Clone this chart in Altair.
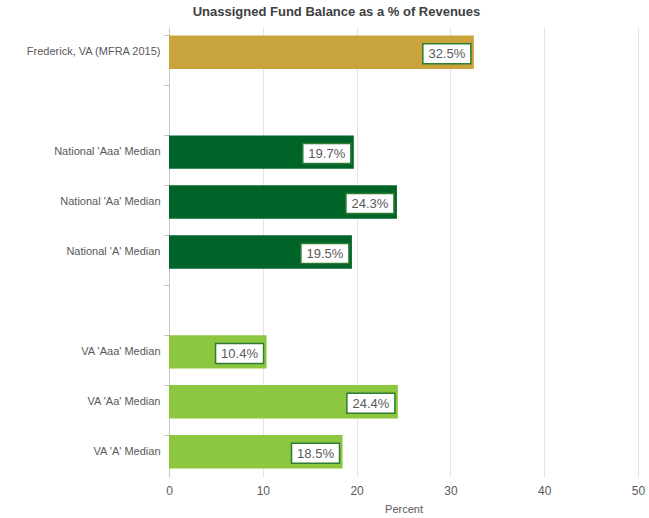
import altair as alt
import pandas as pd

categories = ["Frederick, VA (MFRA 2015)", " ", "National 'Aaa' Median", "National 'Aa' Median",
              "National 'A' Median", "  ", "VA 'Aaa' Median", "VA 'Aa' Median", "VA 'A' Median"]
bar_names = ["Frederick, VA (MFRA 2015)", "National 'Aaa' Median", "National 'Aa' Median",
             "National 'A' Median", "VA 'Aaa' Median", "VA 'Aa' Median", "VA 'A' Median"]
values = [32.5, 19.7, 24.3, 19.5, 10.4, 24.4, 18.5]
groups = ["Frederick", "National", "National", "National", "VA", "VA", "VA"]
group_names = ["Frederick", "National", "VA"]
group_colors = ["#C9A33B", "#006429", "#8DC63F"]
x_ticks = [0, 10, 20, 30, 40, 50]

df = pd.DataFrame({"name": bar_names, "value": values, "group": groups})
df["label"] = [f"{v:.1f}%" for v in values]

FONT = "Liberation Sans"
yscale = alt.Scale(domain=categories, paddingInner=0.33, paddingOuter=0.17)
xscale = alt.Scale(domain=[0, 50], nice=False)

y_enc = alt.Y("name:N", scale=yscale, sort=categories, title=None,
              axis=alt.Axis(ticks=False, domain=True, domainColor="#c8c8c8", labelColor="#595959",
                            labelFont=FONT, labelFontSize=11, labelPadding=9, grid=False,
                            orient="left"))
x_enc = alt.X("value:Q", scale=xscale, title="Percent",
              axis=alt.Axis(values=x_ticks, grid=True, gridColor="#e3e3e3",
                            ticks=False, domain=False, labelColor="#595959", labelFont=FONT,
                            labelFontSize=12, labelPadding=8, labelFlush=False,
                            titleColor="#595959",
                            titleFont=FONT, titleFontSize=11, titleFontWeight="normal",
                            titlePadding=7))

bars = alt.Chart(df).mark_bar().encode(
    y=y_enc, x=x_enc,
    color=alt.Color("group:N", scale=alt.Scale(domain=group_names, range=group_colors), legend=None),
)

ticks = alt.Chart(df).mark_bar(opacity=0).encode(
    y=alt.Y("name:N", scale=yscale, sort=categories, title=None,
            axis=alt.Axis(labels=False, ticks=True, tickSize=5, tickColor="#bdbdbd",
                          bandPosition=0, domain=False, grid=False, orient="left")),
    x=x_enc,
)

boxes = alt.Chart(df).mark_bar(size=20, fill="white", stroke="#2E7D32", strokeWidth=1.5,
                               yOffset=1.5, xOffset=-51, x2Offset=-3).encode(
    y=y_enc,
    x=x_enc,
    x2="value:Q",
)

texts = alt.Chart(df).mark_text(align="center", baseline="middle", dx=-27, dy=2,
                                font=FONT, fontSize=13, color="#595959").encode(
    y=y_enc,
    x=x_enc,
    text="label:N",
)

main = alt.layer(bars, boxes, texts)

chart = alt.layer(main, ticks).resolve_axis(y="independent").properties(
    width=469, height=450,
    autosize=alt.AutoSizeParams(type="none"),
    padding={"left": 169, "top": 27, "right": 11, "bottom": 41},
    title=alt.TitleParams("Unassigned Fund Balance as a % of Revenues", font=FONT, fontSize=13,
                          fontWeight="bold", color="#404040", dx=-67, offset=8),
).configure_view(stroke=None)

chart.save("out.html", embed_options={"renderer": "svg", "actions": False})
